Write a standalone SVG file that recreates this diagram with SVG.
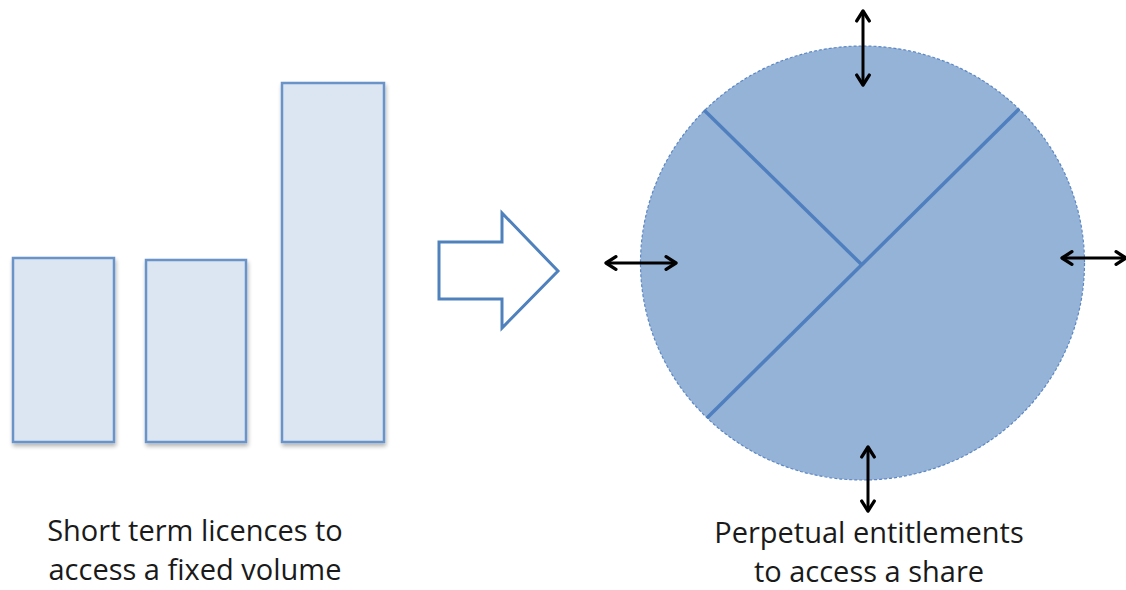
<svg xmlns="http://www.w3.org/2000/svg" width="1126" height="590" viewBox="0 0 1126 590">
<defs>
<filter id="sh" x="-20%" y="-20%" width="140%" height="140%"><feGaussianBlur in="SourceAlpha" stdDeviation="2"/><feOffset dx="1" dy="3"/><feComponentTransfer><feFuncA type="linear" slope="0.3"/></feComponentTransfer><feMerge><feMergeNode/><feMergeNode in="SourceGraphic"/></feMerge></filter>
<marker id="ah" viewBox="0 0 10 10" refX="8.5" refY="5" markerWidth="5.5" markerHeight="5.5" orient="auto-start-reverse"><path d="M2.5,1.2 L8.5,5 L2.5,8.8" fill="none" stroke="#000" stroke-width="2" stroke-linecap="round" stroke-linejoin="round"/></marker>
</defs>
<style>
.bar{fill:#dce6f2;stroke:#6a93c8;stroke-width:2.5}
.lbl{font-family:"Open Sans","Liberation Sans",sans-serif;font-size:29px;fill:#1a1a1a;text-anchor:middle}
.dbl{stroke:#000;stroke-width:3;fill:none;marker-start:url(#ah);marker-end:url(#ah)}
.div{stroke:#4f7fbf;stroke-width:3.5;fill:none}
</style>
<rect width="1126" height="590" fill="#fff"/>
<g id="bar1"><rect class="bar" x="13" y="258" width="101" height="184" filter="url(#sh)"/></g>
<g id="bar2"><rect class="bar" x="146" y="260" width="100" height="182" filter="url(#sh)"/></g>
<g id="bar3"><rect class="bar" x="282" y="83" width="102" height="359" filter="url(#sh)"/></g>
<g id="label-left"><text class="lbl" x="195" y="541">Short term licences to</text><text class="lbl" x="195" y="580">access a fixed volume</text></g>
<g id="big-arrow"><polygon points="439,242 502,242 502,213 558,271 502,328 502,299 439,299" fill="#fff" stroke="#4f81bd" stroke-width="3"/></g>
<g id="pie">
<ellipse cx="862.5" cy="263" rx="222" ry="217" fill="#95b3d7" stroke="#5b87c5" stroke-width="1.2" stroke-dasharray="3,2"/>
<line class="div" x1="704" y1="110" x2="861" y2="264"/>
<line class="div" x1="1019" y1="109" x2="707" y2="418"/>
</g>
<g id="label-right"><text class="lbl" x="869" y="543">Perpetual entitlements</text><text class="lbl" x="869" y="582">to access a share</text></g>
<g id="connectors">
<line class="dbl" x1="863" y1="11" x2="863" y2="85"/>
<line class="dbl" x1="606" y1="263" x2="676" y2="263"/>
<line class="dbl" x1="1062" y1="258" x2="1126" y2="258"/>
<line class="dbl" x1="868" y1="447" x2="868" y2="511"/>
</g>
</svg>
